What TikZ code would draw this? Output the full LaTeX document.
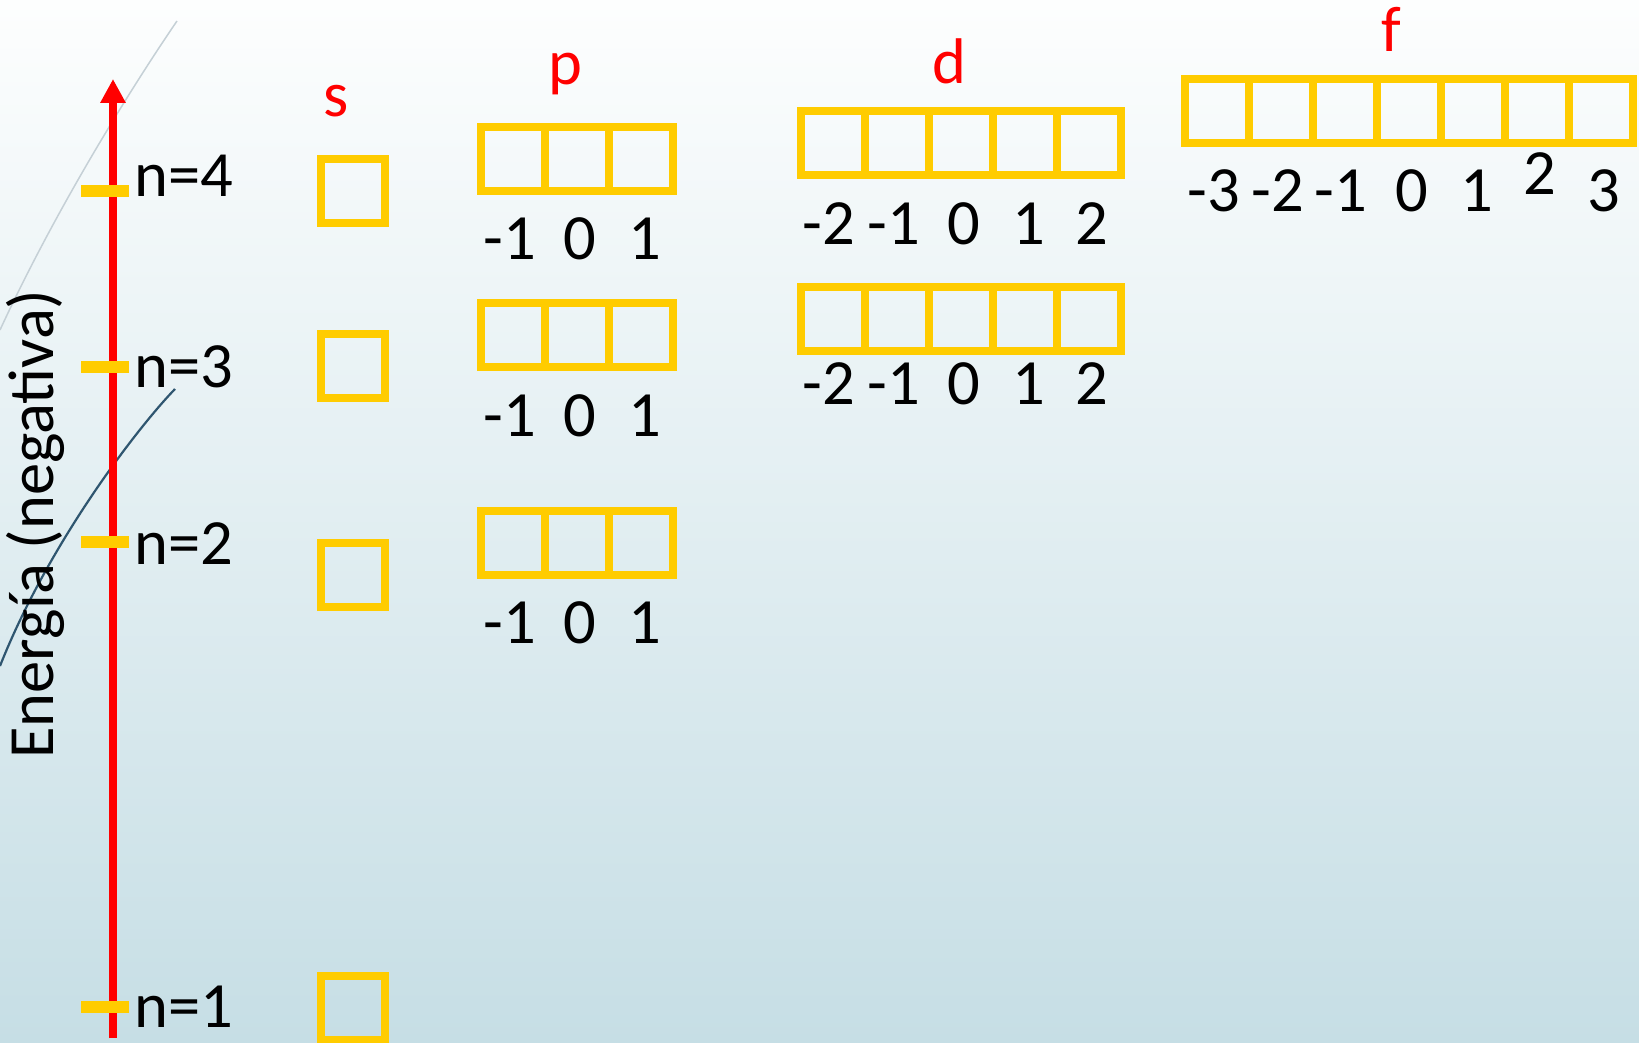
\documentclass[tikz,border=0pt]{standalone}
\usepackage{fontspec}
\setmainfont{Carlito}
\usetikzlibrary{arrows.meta}
\definecolor{ybox}{HTML}{FFCC00}
\definecolor{bgtop}{HTML}{FDFEFE}
\definecolor{bgbot}{HTML}{C6DEE5}
\definecolor{curveA}{HTML}{C5D0D6}
\definecolor{curveB}{HTML}{2F5670}
\begin{document}
\begin{tikzpicture}[x=1pt,y=-1pt,
  cell/.style={draw=ybox,line width=8pt,minimum width=64pt,minimum height=64pt,inner sep=0pt,outer sep=0pt},
  txt/.style={inner sep=0pt,font=\fontsize{64.5}{72}\selectfont},
  num/.style={txt,anchor=base},
  orb/.style={txt,anchor=base,text=red},
  tick/.style={draw=ybox,line width=12pt}]
\useasboundingbox (0,0) rectangle (1639,1043);
\shade[top color=bgtop,bottom color=bgbot] (0,0) rectangle (1639,1043);
% decorative background curves
\draw[curveA,line width=1.5pt] (177,21) .. controls (140,75) and (60,200) .. (0,330);
\draw[curveB,line width=2.2pt] (175,389) .. controls (140,425) and (50,540) .. (0,666);
% energy axis
\coordinate (axbot) at (113,1038);
\coordinate (axtop) at (113,79);
\draw[red,line width=7.5pt,-{Triangle[length=24pt,width=24pt]}] (axbot) -- (axtop);
\node[txt,rotate=90,anchor=base west] (energia) at (53,759) {Energía (negativa)};
% levels
\foreach \n/\ty/\by in {4/191/197,3/367/387,2/542/564,1/1007/1027}{
  \coordinate (tl\n) at (81,\ty);
  \coordinate (tr\n) at (129,\ty);
  \draw[tick] (tl\n) -- (tr\n);
  \node[txt,anchor=base west] (lev\n) at (134,\by) {n=\n};
}
% s orbitals
\node[orb] (slab) at (336,117) {s};
\foreach \n/\y in {4/191,3/366,2/575,1/1008}{
  \node[cell] (s\n) at (353,\y) {};
}
% p orbitals
\node[orb] (plab) at (565,85) {p};
\foreach \r/\y/\by in {4/159/260,3/335/436,2/543/643}{
  \foreach \m/\x in {a/513,b/577,c/641}{
    \node[cell] (p\r\m) at (\x,\y) {};
  }
  \node[num] (pn\r a) at (510,\by) {-1};
  \node[num] (pn\r b) at (580,\by) {0};
  \node[num] (pn\r c) at (645,\by) {1};
}
% d orbitals
\node[orb] (dlab) at (949,84) {d};
\foreach \r/\y/\by in {4/143/244,3/319/404}{
  \foreach \m/\x/\lx/\lab in {a/833/829/-2,b/897/894/-1,c/961/964/0,d/1025/1029/1,e/1089/1092/2}{
    \node[cell] (d\r\m) at (\x,\y) {};
    \node[num] (dn\r\m) at (\lx,\by) {\lab};
  }
}
% f orbitals
\node[orb] (flab) at (1391,52) {f};
\foreach \m/\x/\lx/\lab/\by in {a/1217/1214/-3/212,b/1281/1278/-2/212,c/1345/1341/-1/212,d/1409/1412/0/212,e/1473/1477/1/212,f/1537/1540/2/195,g/1601/1604/3/212}{
  \node[cell] (f4\m) at (\x,111) {};
  \node[num] (fn4\m) at (\lx,\by) {\lab};
}
\end{tikzpicture}
\end{document}
